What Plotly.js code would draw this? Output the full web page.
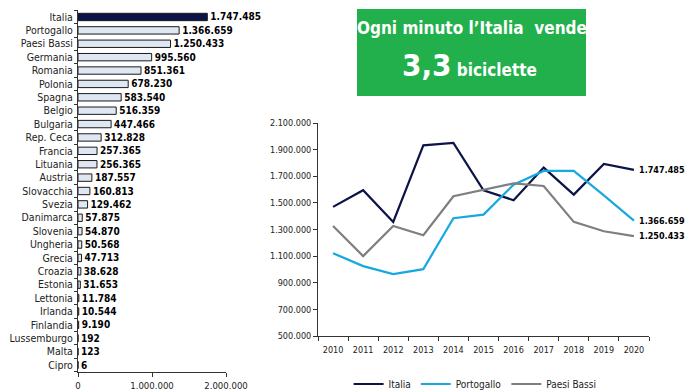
<!DOCTYPE html>
<html>
<head>
<meta charset="utf-8">
<script src="https://cdn.plot.ly/plotly-3.0.1.min.js"></script>
<style>
html,body{margin:0;padding:0;background:#fff;}
#chart{width:700px;height:391px;}
</style>
</head>
<body>
<div id="chart"></div>
<script>
// ---- Data ----
const countries = ["Italia","Portogallo","Paesi Bassi","Germania","Romania","Polonia","Spagna","Belgio","Bulgaria","Rep. Ceca","Francia","Lituania","Austria","Slovacchia","Svezia","Danimarca","Slovenia","Ungheria","Grecia","Croazia","Estonia","Lettonia","Irlanda","Finlandia","Lussemburgo","Malta","Cipro"];
const exportValues = [1747485,1366659,1250433,995560,851361,678230,583540,516359,447466,312828,257365,256365,187557,160813,129462,57875,54870,50568,47713,38628,31653,11784,10544,9190,192,123,6];

const years = ["2010","2011","2012","2013","2014","2015","2016","2017","2018","2019","2020"];
const italia = [1470000,1595000,1357000,1932000,1950000,1595000,1520000,1765000,1562000,1792000,1747485];
const portogallo = [1122000,1025000,965000,1002000,1385000,1412000,1637000,1740000,1740000,1557000,1366659];
const paesiBassi = [1327000,1100000,1327000,1257000,1550000,1600000,1647000,1627000,1357000,1287000,1250433];

const headline1 = "Ogni minuto l\u2019Italia  vende";
const headlineNum = "3,3";
const headlineUnit = "biciclette";

// ---- Helpers ----
function fmt(v){ return String(v).replace(/\B(?=(\d{3})+(?!\d))/g, "."); }

const NAVY = "#0c1447";
const CYAN = "#18a8e0";
const GREY = "#7f7f7f";
const FONT = "'DejaVu Sans Condensed','Liberation Sans',Arial,sans-serif";

const barColors = countries.map((c,i)=> i===0 ? NAVY : "#dfe7f2");

const traces = [
  {
    type:"bar", orientation:"h",
    x: exportValues, y: countries,
    xaxis:"x", yaxis:"y",
    marker:{color:barColors, line:{color:"#1a1a1a", width:1}},
    width:0.55,
    text: exportValues.map(fmt),
    textposition:"outside",
    constraintext:"none",
    cliponaxis:false,
    textfont:{family:FONT, size:10, color:"#000", weight:700},
    hoverinfo:"skip",
    showlegend:false
  },
  {type:"scatter", mode:"lines", name:"Italia", x:years, y:italia, xaxis:"x2", yaxis:"y2", line:{color:NAVY, width:2.2}},
  {type:"scatter", mode:"lines", name:"Portogallo", x:years, y:portogallo, xaxis:"x2", yaxis:"y2", line:{color:CYAN, width:2.2}},
  {type:"scatter", mode:"lines", name:"Paesi Bassi", x:years, y:paesiBassi, xaxis:"x2", yaxis:"y2", line:{color:GREY, width:2.2}}
];

const last = years.length-1;
// on a category axis, annotation x is the category index
const endLabels = [italia, portogallo, paesiBassi].map(s => ({
  xref:"x2", yref:"y2", x: last, y: s[last],
  text: fmt(s[last]), showarrow:false, xanchor:"left", xshift:3,
  font:{family:FONT, size:9, color:"#000", weight:700}
}));

const layout = {
  width:700, height:391,
  margin:{l:0,r:0,t:0,b:0, autoexpand:false},
  paper_bgcolor:"#fff", plot_bgcolor:"rgba(0,0,0,0)",
  separators:",.",
  font:{family:FONT, size:10, color:"#222"},
  bargap:0.45,
  xaxis:{
    domain:[78/700, 226/700], range:[0,2000000], fixedrange:true,
    showgrid:false, zeroline:false, showline:true, linecolor:"#333", linewidth:1,
    ticks:"outside", ticklen:4, tickcolor:"#333",
    tickvals:[0,1000000,2000000], ticktext:["0","1.000.000","2.000.000"],
    tickfont:{family:FONT, size:9.5, color:"#222"}, anchor:"y", ticklabelstandoff:1
  },
  yaxis:{
    domain:[19.3/391, 380.7/391], range:[26.5,-0.5], type:"category",
    tickmode:"array", tickvals:countries, ticktext:countries,
    showgrid:false, zeroline:false, showline:true, linecolor:"#333", linewidth:1,
    ticks:"outside", ticklen:3, tickcolor:"#333", tickson:"boundaries",
    tickfont:{family:FONT, size:10.5, color:"#222"}, anchor:"x", ticklabelstandoff:2
  },
  xaxis2:{
    domain:[318/700, 649/700], type:"category", range:[-0.5,10.5], tickangle:0,
    showgrid:false, zeroline:false, showline:true, linecolor:"#333", linewidth:1,
    ticks:"outside", ticklen:4, tickcolor:"#333", tickson:"boundaries",
    tickfont:{family:FONT, size:9, color:"#222"}, anchor:"y2", ticklabelstandoff:5
  },
  yaxis2:{
    domain:[55/391, 268/391], range:[500000,2100000],
    tickvals:[500000,700000,900000,1100000,1300000,1500000,1700000,1900000,2100000],
    tickformat:",d",
    showgrid:false, zeroline:false, showline:true, linecolor:"#333", linewidth:1,
    ticks:"outside", ticklen:4, tickcolor:"#333",
    tickfont:{family:FONT, size:9, color:"#222"}, anchor:"x2"
  },
  showlegend:true,
  legend:{
    orientation:"h", x:0.498, xanchor:"left", y:7/391, yanchor:"middle",
    font:{family:FONT, size:10, color:"#222"},
    itemwidth:30, tracegroupgap:0, bgcolor:"rgba(0,0,0,0)"
  },
  shapes:[
    {type:"rect", xref:"paper", yref:"paper", x0:357/700, x1:586/700, y0:1-96/391, y1:1-9/391,
     fillcolor:"#21b04b", line:{width:0}, layer:"below"}
  ],
  annotations:[
    {xref:"paper", yref:"paper", x:471.5/700, y:1-28/391, text:headline1, showarrow:false,
     xanchor:"center", yanchor:"middle", font:{family:FONT, size:17, color:"#fff", weight:700}},
    {xref:"paper", yref:"paper", x:469/700, y:1-65/391,
     text:"<span style='font-size:31px'>"+headlineNum+"</span> "+headlineUnit, showarrow:false,
     xanchor:"center", yanchor:"middle", font:{family:FONT, size:17, color:"#fff", weight:700}},
    ...endLabels
  ]
};

Plotly.newPlot("chart", traces, layout, {displayModeBar:false, staticPlot:true});
</script>
</body>
</html>
